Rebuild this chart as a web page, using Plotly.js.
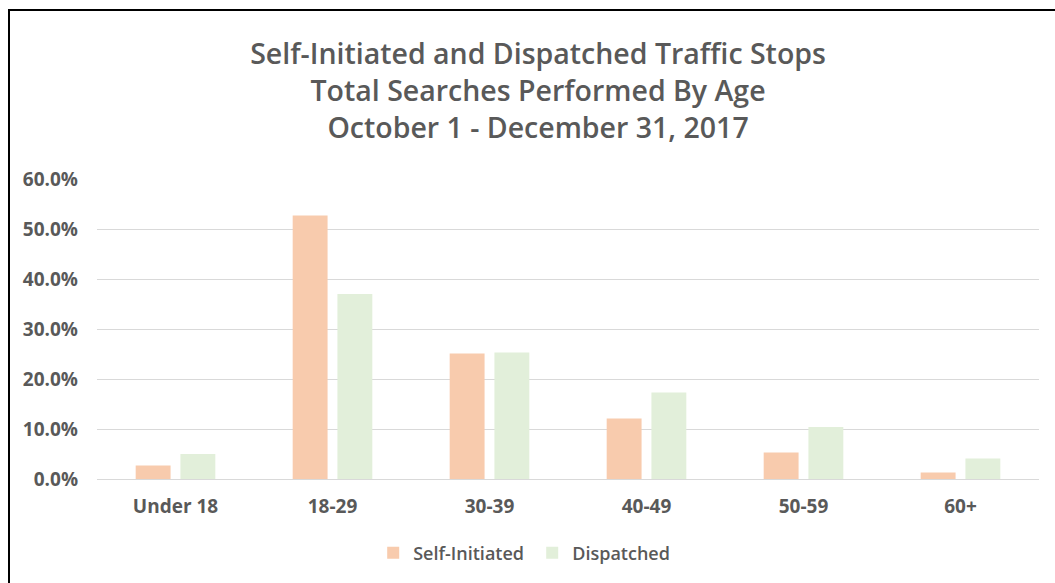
<!DOCTYPE html>
<html>
<head>
<meta charset="utf-8">
<script src="https://cdn.plot.ly/plotly-3.0.1.min.js"></script>
<style>
  html, body { margin: 0; padding: 0; background: #fff; }
  #chart { width: 1055px; height: 583px; }
  #frame { position: absolute; left: 8px; top: 9px; width: 1100px; height: 700px;
           border-left: 2px solid #000; border-top: 2px solid #000; pointer-events: none; }
</style>
</head>
<body>
<div id="chart"></div>
<div id="frame"></div>
<script>
const categories = ["Under 18", "18-29", "30-39", "40-49", "50-59", "60+"];
const selfInitiated = [0.027, 0.527, 0.251, 0.121, 0.053, 0.013];
const dispatched = [0.050, 0.370, 0.253, 0.173, 0.104, 0.041];
const titleLines = ["Self-Initiated and Dispatched Traffic Stops", "Total Searches Performed By Age", "October 1 - December 31, 2017"];

const FONT = "'Open Sans', sans-serif";
const GRAY = "#595959";

const traces = [
  { type: "bar", name: "Self-Initiated", x: categories, y: selfInitiated,
    marker: { color: "#F8CBAD" }, hovertemplate: "%{x}: %{y:.1%}<extra>Self-Initiated</extra>" },
  { type: "bar", name: "Dispatched", x: categories, y: dispatched,
    marker: { color: "#E2EFDA" }, hovertemplate: "%{x}: %{y:.1%}<extra>Dispatched</extra>" }
];

const layout = {
  width: 1055, height: 583,
  paper_bgcolor: "#fff", plot_bgcolor: "#fff",
  margin: { l: 97, r: 16, t: 179, b: 104 },
  font: { family: FONT, color: GRAY },
  title: { text: titleLines.join("<br>"), font: { family: FONT, size: 28.5, color: GRAY, weight: 600 },
           x: 0.51, xanchor: "center", y: 0.89, yanchor: "middle" },
  barmode: "group", bargap: 0.43, bargroupgap: 0.22,
  xaxis: { type: "category", showline: false, showgrid: false, ticks: "", ticklabelstandoff: 14,
           tickfont: { family: FONT, size: 19, color: GRAY, weight: "bold" }, fixedrange: true },
  yaxis: { range: [0, 0.6], dtick: 0.1, tickformat: ".1%", showline: false,
           gridcolor: "#D9D9D9", gridwidth: 1, zeroline: true, zerolinecolor: "#D9D9D9", zerolinewidth: 1,
           ticks: "", ticklabelstandoff: 18,
           tickfont: { family: FONT, size: 19, color: GRAY, weight: "bold" }, fixedrange: true },
  legend: { orientation: "h", x: 0.462, xanchor: "center", y: -0.247, yanchor: "middle",
            font: { family: FONT, size: 18, color: GRAY, weight: 600 }, itemwidth: 30,
            entrywidth: 114, entrywidthmode: "pixels", traceorder: "normal" },
  showlegend: true
};

Plotly.newPlot("chart", traces, layout, { displayModeBar: false });
</script>
</body>
</html>
